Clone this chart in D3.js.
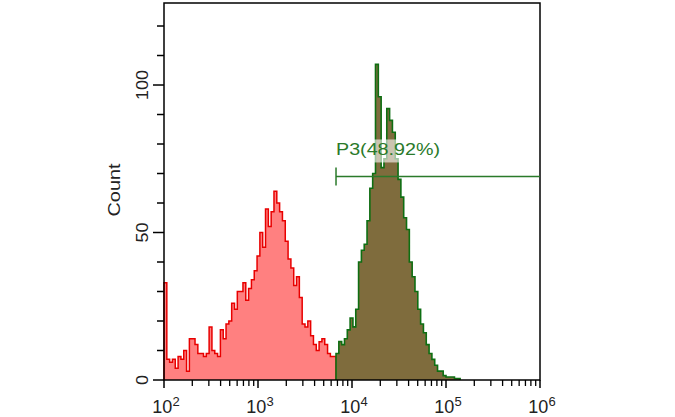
<!DOCTYPE html>
<html><head><meta charset="utf-8">
<script src="https://cdn.jsdelivr.net/npm/d3@7"></script>
<style>body{margin:0;background:#fff}svg{display:block}text{font-family:Arial,"Liberation Sans",sans-serif}</style>
</head><body>
<svg id="c" width="675" height="417"></svg>
<script>
// ---- data ----
const binWidthDecades = 0.03;
const redStartLog = 2.0;
const redCounts = [33,7,6,7,4,8,7,10,3,14,14,12,9,9,8,9,18,10,9,8,17,14,19,20,26,24,30,30,33,27,31,34,37,42,50,45,58,52,57,64,60,57,54,47,41,38,32,35,28,19,18,20,15,12,10,13,14,12,9,8,8];
const greenStartLog = 3.83;
const greenCounts = [9,13,12,14,17,21,18,24,40,44,46,54,65,70,107,96,72,75,92,88,84,75,68,62,55,51,40,35,30,24,19,16,12,9,7,5,3,3,1.5,1,1,1,0.5,0.5];
const yTicks = [0,10,20,30,40,50,60,70,80,90,100,110,120];
const yLabels = [0,50,100];
const xDecades = [2,3,4,5,6];
const gateLabel = "P3(48.92%)";
const gateRange = [6760, 1e6];
const gateY = 69;
const yTitle = "Count";

// ---- chart ----
const svg = d3.select("#c");
const L = 164, R = 540, T = 3, B = 380;
const x = d3.scaleLog().domain([1e2, 1e6]).range([L, R]);
const y = d3.scaleLinear().domain([0, 127.8]).range([B, T]);

function stepPath(startLog, counts) {
  const p = d3.path();
  const e = i => x(Math.pow(10, startLog + i * binWidthDecades));
  p.moveTo(e(0), y(0));
  counts.forEach((c, i) => { p.lineTo(e(i), y(c)); p.lineTo(e(i + 1), y(c)); });
  p.lineTo(e(counts.length), y(0));
  return p.toString();
}

// red histogram
svg.append("path").attr("d", stepPath(redStartLog, redCounts) + "Z")
  .attr("fill", "#ff8080").attr("stroke", "none");
svg.append("path").attr("d", stepPath(redStartLog, redCounts))
  .attr("fill", "none").attr("stroke", "#e80000").attr("stroke-width", 1.5);

// green histogram
svg.append("path").attr("d", stepPath(greenStartLog, greenCounts) + "Z")
  .attr("fill", "#7f6c3d").attr("stroke", "none");
svg.append("path").attr("d", stepPath(greenStartLog, greenCounts))
  .attr("fill", "none").attr("stroke", "#0e6e12").attr("stroke-width", 1.6);

// frame
svg.append("rect").attr("x", L).attr("y", T).attr("width", R - L).attr("height", B - T)
  .attr("fill", "none").attr("stroke", "#000").attr("stroke-width", 1.5);

// y axis ticks
const yAxis = svg.append("g").attr("transform", `translate(${L},0)`);
yAxis.selectAll("line").data(yTicks).join("line")
  .attr("x1", d => yLabels.includes(d) ? -11 : -7).attr("x2", 0)
  .attr("y1", d => y(d)).attr("y2", d => y(d))
  .attr("stroke", "#000").attr("stroke-width", 1.5);
yAxis.selectAll("text").data(yLabels).join("text")
  .attr("transform", d => `translate(-22,${y(d)}) rotate(-90)`)
  .attr("text-anchor", "middle").attr("dy", "0.35em")
  .attr("font-size", 17).attr("fill", "#222").text(d => d)
  .attr("textLength", d => String(d).length * 10).attr("lengthAdjust", "spacingAndGlyphs");

svg.append("text").attr("transform", `translate(114,190) rotate(-90)`)
  .attr("text-anchor", "middle").attr("dy", "0.35em")
  .attr("font-size", 17).attr("fill", "#222").text(yTitle)
  .attr("textLength", 53).attr("lengthAdjust", "spacingAndGlyphs");

// x axis ticks
const xMinor = [];
xDecades.slice(0, -1).forEach(dec => { for (let m = 2; m <= 9; m++) xMinor.push(m * Math.pow(10, dec)); });
const xAxis = svg.append("g").attr("transform", `translate(0,${B})`);
xAxis.selectAll("line.mi").data(xMinor).join("line").attr("class", "mi")
  .attr("x1", d => x(d)).attr("x2", d => x(d)).attr("y1", 0).attr("y2", 6)
  .attr("stroke", "#000").attr("stroke-width", 1.3);
xAxis.selectAll("line.ma").data(xDecades).join("line").attr("class", "ma")
  .attr("x1", d => x(Math.pow(10, d))).attr("x2", d => x(Math.pow(10, d))).attr("y1", 0).attr("y2", 8)
  .attr("stroke", "#000").attr("stroke-width", 1.5);
const xl = xAxis.selectAll("text").data(xDecades).join("text")
  .attr("x", d => x(Math.pow(10, d)) + 2).attr("y", 33)
  .attr("text-anchor", "middle").attr("font-size", 18).attr("fill", "#222");
xl.append("tspan").text("10");
xl.append("tspan").attr("dy", -7).attr("font-size", 13).text(d => d);

// gate
const gx0 = x(gateRange[0]), gx1 = x(gateRange[1]), gy = y(gateY);
const g = svg.append("g");
const lbl = g.append("text").attr("x", gx0).attr("y", gy - 21)
  .attr("font-size", 17).attr("fill", "#2a7a2a").text(gateLabel)
  .attr("textLength", 104).attr("lengthAdjust", "spacingAndGlyphs");
const bb = lbl.node().getBBox();
g.insert("rect", "text").attr("x", bb.x - 2).attr("y", bb.y - 1).attr("width", bb.width + 4).attr("height", bb.height + 4)
  .attr("fill", "#fff").attr("opacity", 0.6);
g.append("line").attr("x1", gx0).attr("x2", gx1).attr("y1", gy).attr("y2", gy)
  .attr("stroke", "#2a7a2a").attr("stroke-width", 1.5);
g.append("line").attr("x1", gx0).attr("x2", gx0).attr("y1", gy - 9).attr("y2", gy + 9)
  .attr("stroke", "#2a7a2a").attr("stroke-width", 1.5);
</script>
</body></html>
